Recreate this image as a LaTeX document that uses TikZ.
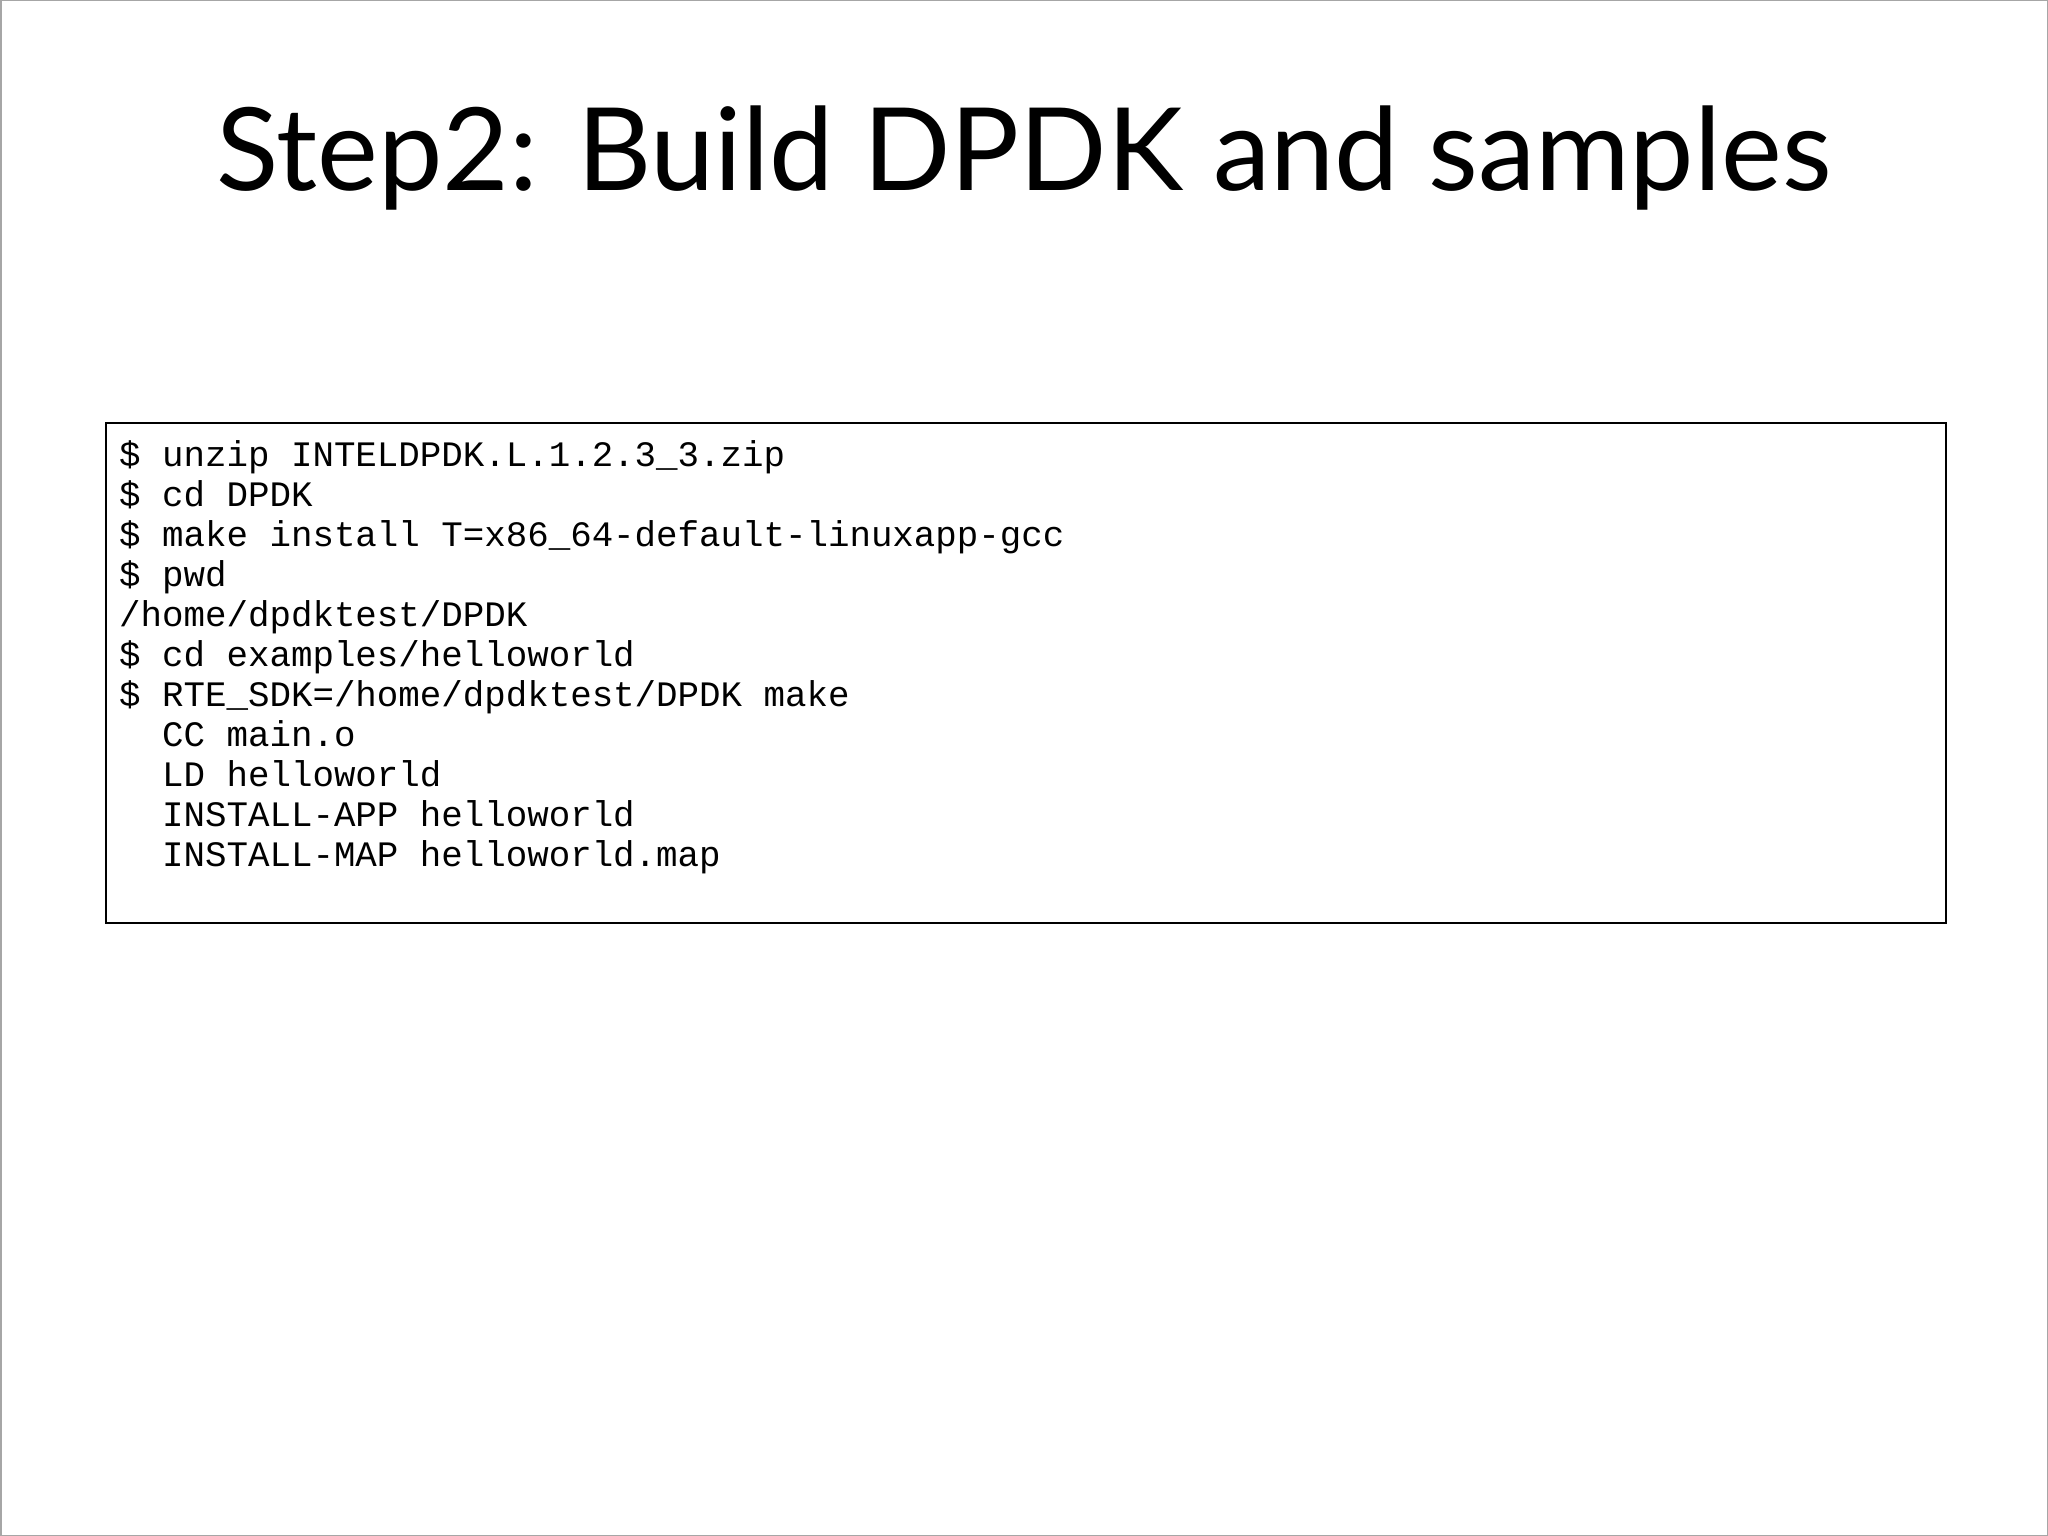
\documentclass[tikz,border=0pt]{standalone}
\usepackage{fontspec}
\setmainfont{Lato}
\setmonofont{Liberation Mono}
\begin{document}
\begin{tikzpicture}[x=1pt,y=-1pt,
  codeline/.style={anchor=base west,inner sep=0pt,font=\fontsize{35.8}{40}\selectfont\ttfamily}]
\useasboundingbox (0,0) rectangle (2048,1536);
\draw[line width=1.5pt,gray!70] (0.75,0.75) rectangle (2047.25,1535.25);
\node[anchor=base,inner sep=0pt,font=\fontsize{115}{125}\selectfont] (title) at (1024,190) {Step2: Build DPDK and samples};
\node[draw,line width=1.5pt,minimum width=1840pt,minimum height=500pt,inner sep=0pt] (box) at (1026,673) {};
\foreach \t [count=\i] in {%
 {\$ unzip INTELDPDK.L.1.2.3\_3.zip},
 {\$ cd DPDK},
 {\$ make install T=x86\_64-default-linuxapp-gcc},
 {\$ pwd},
 {/home/dpdktest/DPDK},
 {\$ cd examples/helloworld},
 {\$ RTE\_SDK=/home/dpdktest/DPDK make},
 {\ \ CC main.o},
 {\ \ LD helloworld},
 {\ \ INSTALL-APP helloworld},
 {\ \ INSTALL-MAP helloworld.map}}
 \node[codeline] (l\i) at (119,{466+40*(\i-1)}) {\t};
\end{tikzpicture}
\end{document}
